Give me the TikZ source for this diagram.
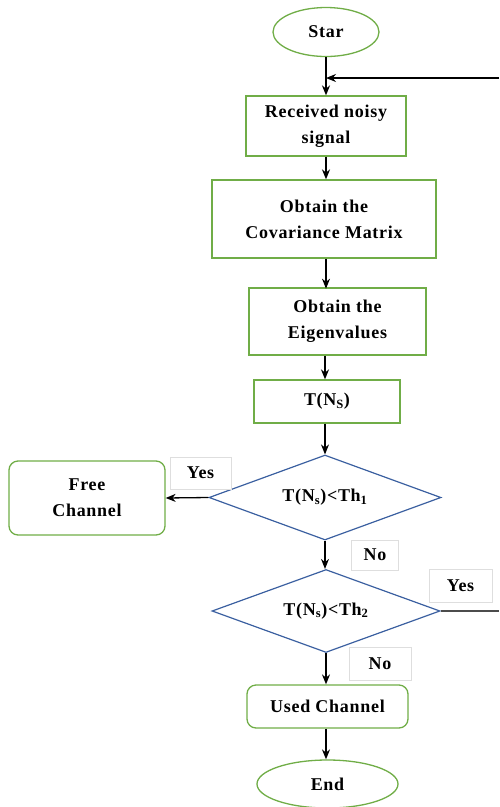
\documentclass[tikz,border=0pt]{standalone}
\usepackage{fontspec}
\setmainfont{Liberation Serif}[LetterSpace=4]
\usetikzlibrary{shapes.geometric,arrows.meta}
\definecolor{gbord}{RGB}{112,173,71}
\definecolor{dblue}{RGB}{58,95,160}
\definecolor{lgray}{RGB}{222,222,222}
\tikzset{
  every node/.style={font=\bfseries\fontsize{18}{26}\selectfont, align=center, inner sep=0pt},
  procbox/.style={draw=gbord, line width=1.3pt, rectangle},
  roundbox/.style={draw=gbord, line width=1.3pt, rectangle, rounded corners=9pt},
  term/.style={draw=gbord, line width=1.3pt, ellipse},
  decide/.style={draw=dblue, line width=1.2pt, diamond, aspect=2.7},
  lab/.style={draw=lgray, line width=0.6pt, fill=white},
  arr/.style={draw=black, line width=1.3pt, -{Stealth[length=10pt,width=8pt]}},
  ln/.style={draw=black!70, line width=1.3pt}
}
\begin{document}
\begin{tikzpicture}[x=1pt,y=-1pt]
\useasboundingbox (0,0) rectangle (499,807);
% nodes
\node[term, minimum width=106pt, minimum height=49pt] (start) at (326,32) {Star};
\node[procbox, minimum width=160pt, minimum height=60pt] (b1) at (326,126) {Received noisy\\signal};
\node[procbox, minimum width=224pt, minimum height=78pt] (b2) at (324,219) {Obtain the\\Covariance Matrix};
\node[procbox, minimum width=177pt, minimum height=67pt] (b3) at (337.5,321.5) {Obtain the\\Eigenvalues};
\node[procbox, minimum width=146pt, minimum height=43pt] (b4) at (327,401.5) {T(N\textsubscript{S})};
\node[decide, minimum width=232pt, minimum height=85pt] (d1) at (325,497.5) {T(N\textsubscript{s})<Th\textsubscript{1}};
\node[roundbox, minimum width=156pt, minimum height=74pt] (free) at (87,498) {Free\\Channel};
\node[decide, minimum width=228pt, minimum height=83pt] (d2) at (326,611) {T(N\textsubscript{s})<Th\textsubscript{2}};
\node[roundbox, minimum width=161pt, minimum height=43pt] (used) at (327.5,706.5) {Used Channel};
\node[term, minimum width=141pt, minimum height=48pt] (end) at (327.5,784) {End};
% labels
\node[lab, minimum width=61pt, minimum height=32pt] (y1) at (200.5,473) {Yes};
\node[lab, minimum width=47pt, minimum height=30pt] (n1) at (375,555) {No};
\node[lab, minimum width=63pt, minimum height=33pt] (y2) at (460.5,585.5) {Yes};
\node[lab, minimum width=62pt, minimum height=33pt] (n2) at (380,663.5) {No};
% coordinates
\coordinate (join) at (326,78);
\coordinate (fbR) at (499,78);
\coordinate (d2R) at (499,611);
% connectors
\draw[arr] (start.south) -- (b1.north);
\draw[arr] (fbR) -- (join);
\draw[arr] (b1.south) -- (b1.south |- b2.north);
\draw[arr] (b2.south -| b3.north) ++(-11.5,0) -- ++(0,30);
\draw[arr] (b3.south -| d1.north) -- (b4.north -| d1.north);
\draw[arr] (b4.south -| d1.north) -- (d1.north);
\draw[arr] (d1.west) -- (free.east);
\draw[arr] (d1.south) -- (d1.south |- d2.north);
\draw[ln] (d2.east) -- (d2R);
\draw[arr] (d2.south) -- (d2.south |- used.north);
\draw[arr] (used.south -| d2.south) -- (end.north -| d2.south);
\end{tikzpicture}
\end{document}
